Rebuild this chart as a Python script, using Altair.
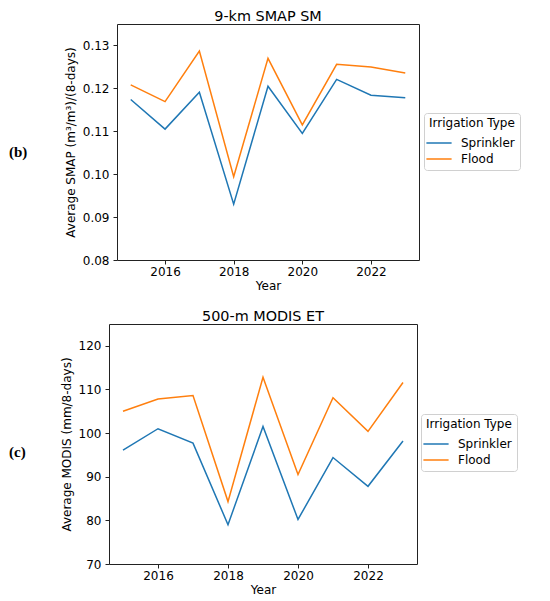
import altair as alt
import pandas as pd

years = [2015, 2016, 2017, 2018, 2019, 2020, 2021, 2022, 2023]
series_names = ["Sprinkler", "Flood"]
series_colors = ["#1f77b4", "#ff7f0e"]

smap_sprinkler = [0.1174, 0.1105, 0.1191, 0.0930, 0.1205, 0.1095, 0.1221, 0.1184, 0.1178]
smap_flood = [0.1208, 0.1169, 0.1287, 0.0994, 0.1270, 0.1115, 0.1256, 0.1250, 0.1236]

modis_sprinkler = [96.1, 101.0, 97.7, 79.0, 101.5, 80.2, 94.4, 87.8, 98.2]
modis_flood = [105.0, 107.8, 108.6, 84.3, 112.8, 90.5, 108.1, 100.4, 111.6]

x_ticks = [2016, 2018, 2020, 2022]
smap_ticks = [0.08, 0.09, 0.10, 0.11, 0.12, 0.13]
modis_ticks = [70, 80, 90, 100, 110, 120]

FONT = "DejaVu Sans"


def panel(sprinkler, flood, title, ytitle, ydomain, yticks, yfmt, w, h,
          label, label_x, label_y, legend_x, legend_y):
    rows = []
    for name, vals in zip(series_names, [sprinkler, flood]):
        for yr, v in zip(years, vals):
            rows.append({"Year": yr, "Value": v, "Irrigation Type": name})
    df = pd.DataFrame(rows)

    line = alt.Chart(df).mark_line(strokeWidth=1.5).encode(
        x=alt.X("Year:Q",
                scale=alt.Scale(domain=[2014.6, 2023.4], nice=False, zero=False),
                axis=alt.Axis(values=x_ticks, format="d", title="Year",
                              labelPadding=2, titlePadding=3)),
        y=alt.Y("Value:Q",
                scale=alt.Scale(domain=ydomain, nice=False, zero=False),
                axis=alt.Axis(values=yticks, format=yfmt, title=ytitle,
                              labelPadding=4, titlePadding=5)),
        color=alt.Color("Irrigation Type:N",
                        scale=alt.Scale(domain=series_names, range=series_colors),
                        legend=alt.Legend(orient="none", legendX=legend_x,
                                          legendY=legend_y)),
        detail="Irrigation Type:N",
    )
    text = alt.Chart(pd.DataFrame({"t": [label]})).mark_text(
        align="left", baseline="middle", font="Liberation Serif",
        fontWeight="bold", fontSize=15, color="black"
    ).encode(text="t:N", x=alt.value(label_x), y=alt.value(label_y))

    return alt.layer(line, text).properties(
        width=w, height=h,
        title=alt.TitleParams(title, fontSize=14.4, font=FONT,
                              fontWeight="normal", color="black", offset=0),
    )


top = panel(smap_sprinkler, smap_flood, "9-km SMAP SM",
            "Average SMAP (m³/m³)/(8-days)", [0.08, 0.135], smap_ticks, ".2f",
            302, 236, "(b)", -108, 128, 307, 89)
bottom = panel(modis_sprinkler, modis_flood, "500-m MODIS ET",
               "Average MODIS (mm/8-days)", [70, 125], modis_ticks, "d",
               308, 240, "(c)", -100, 128, 312, 90)

# invisible spacer that shifts the upper panel 8 px to the right of the lower one
spacer = alt.Chart(pd.DataFrame({"s": [0]})).mark_point(opacity=0).encode(
    x=alt.value(0), y=alt.value(0)
).properties(width=8, height=10, view=alt.ViewConfig(stroke="transparent"))

top_row = alt.hconcat(spacer, top, spacing=0, bounds="flush").resolve_scale(
    color="independent"
).resolve_legend(color="independent")

chart = alt.vconcat(top_row, bottom, spacing=16).resolve_scale(
    color="independent"
).resolve_legend(color="independent").properties(
    padding={"left": 0, "top": 0, "right": 5, "bottom": 5}
).configure_view(
    stroke="#222222", strokeWidth=1
).configure_axis(
    grid=False, domain=False,
    labelFont=FONT, labelFontSize=12, labelColor="black",
    titleFont=FONT, titleFontSize=12, titleFontWeight="normal", titleColor="black",
    tickColor="#222222", tickSize=4, tickWidth=1,
).configure_legend(
    strokeColor="#d0d0d0", fillColor="white", cornerRadius=3, padding=5,
    titleFont=FONT, titleFontSize=12, titleFontWeight="normal", titleColor="black",
    titlePadding=3,
    labelFont=FONT, labelFontSize=12, labelColor="black",
    symbolType="M-1.4,0L1.4,0", symbolSize=324, symbolStrokeWidth=1.5,
    labelOffset=12, rowPadding=0,
)

chart.save("out.html", embed_options={"renderer": "svg", "actions": False})
